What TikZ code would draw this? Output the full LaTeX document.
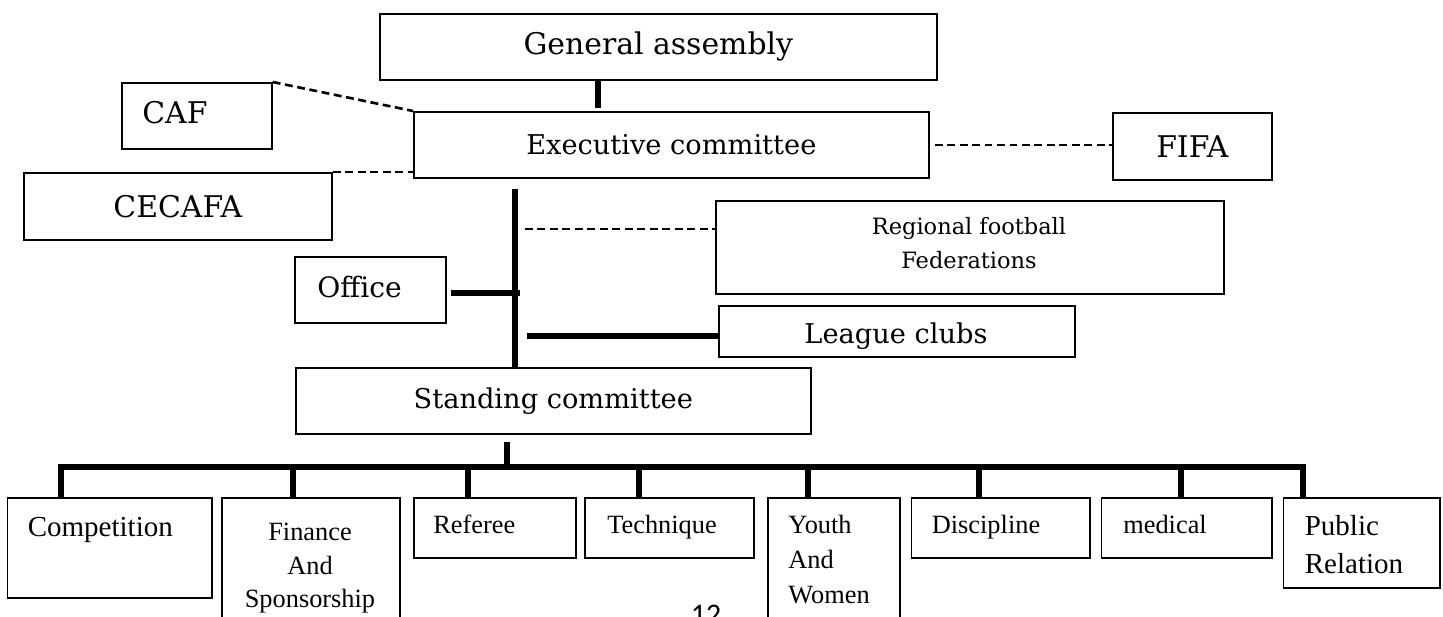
\documentclass[tikz,border=0pt]{standalone}
\usepackage{fontspec}
\setmainfont{Liberation Serif}
\newfontfamily\headfont{DejaVu Serif}
\newfontfamily\pagefont{Carlito}
\begin{document}
\begin{tikzpicture}[
        x=0.02cm, y=-0.02cm,
        box/.style = {draw, line width=1pt, anchor=north west, inner sep=0pt, align=center},
        head/.style = {font=\headfont\fontsize{#1}{20}\selectfont},
        body/.style = {font=\fontsize{#1}{19.5}\selectfont},
        txt/.style = {inner sep=0pt, anchor=base west},
        trunk/.style = {line width=3.6pt},
        link/.style = {line width=1.5pt, dash pattern=on 4.5pt off 2.6pt}
    ]
    \useasboundingbox (0,0) rectangle (1443,616);
    \clip (0,0) rectangle (1443,616);

    % upper part
    \node[box, head=17, minimum width=11.14cm, minimum height=1.32cm] (ga) at (379,13) {General assembly};
    \node[box, head=15.5, minimum width=10.3cm, minimum height=1.32cm] (ec) at (413,111) {Executive committee};
    \node[box, minimum width=3cm, minimum height=1.32cm] (caf) at (121,82) {};
    \node[txt, head=17] (caf label) at (142,123) {CAF};
    \node[box, head=17, minimum width=6.16cm, minimum height=1.34cm] (cecafa) at (23,172) {CECAFA};
    \node[box, head=17, minimum width=3.18cm, minimum height=1.34cm] (fifa) at (1112,112) {FIFA};
    \node[box, minimum width=10.16cm, minimum height=1.86cm] (reg) at (715,200) {};
    \node[inner sep=0pt, anchor=north, align=center, font=\headfont\fontsize{12.8}{19.4}\selectfont] (reg label) at (969,217) {Regional football\\Federations};
    \node[box, minimum width=3.02cm, minimum height=1.32cm] (office) at (294,256) {};
    \node[txt, head=16] (office label) at (317,297) {Office};
    \node[box, minimum width=7.12cm, minimum height=1.02cm] (league) at (718,305) {};
    \node[txt, anchor=base, head=15.5] (league label) at (896,343) {League clubs};
    \node[box, head=15.5, minimum width=10.3cm, minimum height=1.32cm] (stand) at (295,367) {Standing committee};

    % standing committees
    \node[box, minimum width=4.09cm, minimum height=2cm] (comp) at (6.5,497) {};
    \node[box, minimum width=3.56cm, minimum height=2.8cm] (fin) at (221,497) {};
    \node[box, minimum width=3.24cm, minimum height=1.21cm] (ref) at (413,497) {};
    \node[box, minimum width=3.38cm, minimum height=1.21cm] (tech) at (584,497) {};
    \node[box, minimum width=2.64cm, minimum height=2.8cm] (youth) at (767,497) {};
    \node[box, minimum width=3.57cm, minimum height=1.21cm] (disc) at (910.5,497) {};
    \node[box, minimum width=3.41cm, minimum height=1.21cm] (med) at (1100.5,497) {};
    \node[box, minimum width=3.13cm, minimum height=1.81cm] (pub) at (1282.5,497) {};

    \node[txt, body=16.5] (comp label) at (27.5,536) {Competition};
    \node[inner sep=0pt, anchor=north, align=center, font=\fontsize{15}{19}\selectfont] (fin label) at (310,523) {Finance\\And\\Sponsorship};
    \node[txt, body=15] (ref label) at (433,533) {Referee};
    \node[txt, body=15] (tech label) at (607,533) {Technique};
    \node[inner sep=0pt, anchor=north west, align=left, font=\fontsize{15}{20}\selectfont] (youth label) at (788,515) {Youth\\And\\Women};
    \node[txt, body=15] (disc label) at (931.5,533) {Discipline};
    \node[txt, body=15] (med label) at (1123,533) {medical};
    \node[inner sep=0pt, anchor=north west, align=left, font=\fontsize{16.5}{21.6}\selectfont] (pub label) at (1304.5,515) {Public\\Relation};

    \node[inner sep=0pt, anchor=base, font=\pagefont\fontsize{17}{20}\selectfont] (page no) at (706,624) {12};

    % connectors
    \draw[trunk, shorten >=0.06cm] ([xshift=-1.21cm]ga.south) -- ([xshift=-1.21cm]ga.south |- ec.north);
    \draw[link] (caf.north east) -- (ec.north west);
    \draw[link] (cecafa.north east) -- (cecafa.north east -| ec.west);
    \draw[link, shorten <=0.1cm] (ec.east) -- (ec.east -| fifa.west);

    \coordinate (spine) at (515,189);
    \coordinate (reg join) at (525,229);
    \coordinate (office join) at (520,293);
    \coordinate (league join) at (527,336);
    \draw[trunk] (spine) -- (spine |- stand.north);
    \draw[link] (reg join) -- (reg join -| reg.west);
    \draw[trunk, shorten <=0.08cm] (office join -| office.east) -- (office join);
    \draw[trunk] (league join) -- (league join -| league.west);

    \coordinate (hub) at (507,467);
    \draw[trunk, shorten <=0.14cm] (stand.south -| hub) -- (hub);
    \foreach \n/\x in {comp/61, fin/293, ref/468, tech/639, youth/808, disc/979, med/1181, pub/1303}
        \coordinate (\n-top) at (\x,467);
    \draw[trunk] (comp-top |- comp.north) -- (comp-top) -- (pub-top) -- (pub-top |- pub.north);
    \foreach \n in {fin, ref, tech, youth, disc, med}
        \draw[trunk] (\n-top) -- (\n-top |- \n.north);
\end{tikzpicture}
\end{document}
